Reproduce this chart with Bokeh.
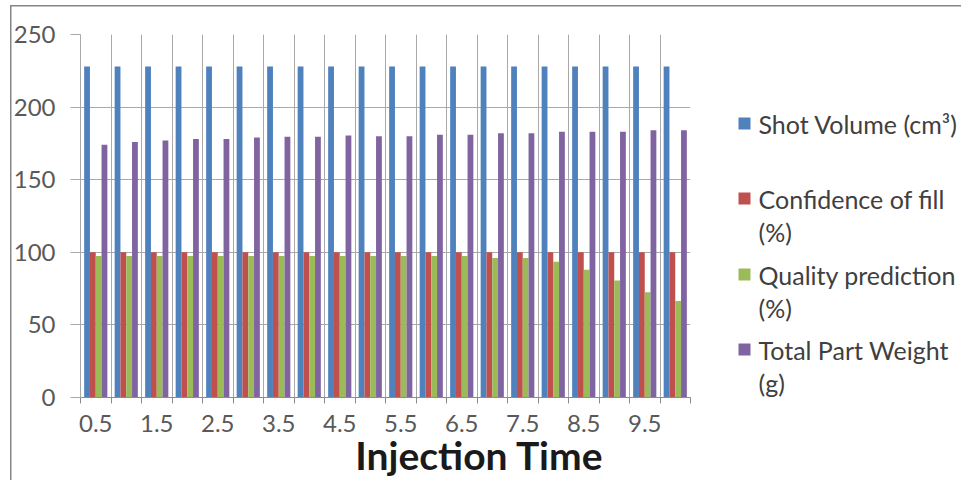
from bokeh.plotting import figure
from bokeh.models import Range1d, FixedTicker, Label, ColumnDataSource
from bokeh.layouts import row
from bokeh.transform import dodge
from bokeh.embed import file_html
from bokeh.resources import INLINE

# ---------------- data ----------------
injection_time = ["0.5", "1", "1.5", "2", "2.5", "3", "3.5", "4", "4.5", "5",
                  "5.5", "6", "6.5", "7", "7.5", "8", "8.5", "9", "9.5", "10"]
shot_volume = [228, 228, 228, 228, 228, 228, 228, 228, 228, 228,
               228, 228, 228, 228, 228, 228, 228, 228, 228, 228]
confidence_fill = [100, 100, 100, 100, 100, 100, 100, 100, 100, 100,
                   100, 100, 100, 100, 100, 100, 100, 100, 100, 100]
quality_prediction = [97.5, 97.5, 97.5, 97.5, 97.5, 97.5, 97.5, 97.5, 97.5, 97.5,
                      97.5, 97.5, 97.5, 96, 96, 93.5, 88, 80.5, 72.5, 66.5]
total_part_weight = [174, 176, 177, 178, 178, 179, 179.5, 179.5, 180.5, 180,
                     180, 181, 181, 182, 182, 183, 183, 183, 184, 184]

series_names = ["Shot Volume (cm\u00b3)", "Confidence of fill\n(%)",
                "Quality prediction\n(%)", "Total Part Weight\n(g)"]
series_colors = ["#4F81BD", "#C0504D", "#9BBB59", "#8064A2"]
y_ticks = [0, 50, 100, 150, 200, 250]
x_title = "Injection Time"

# ---------------- layout constants (page pixels) ----------------
H = 480
MAIN_W, LEG_W = 700, 261
F_LEFT, F_RIGHT, F_TOP, F_BOTTOM = 80, 690, 34, 397
border_color = "#868686"
N = len(injection_time)
Y_MAX = 250

# ---------------- main chart ----------------
p = figure(width=MAIN_W, height=H, output_backend="svg", toolbar_location=None,
           x_range=Range1d(-0.5, N - 0.5), y_range=Range1d(0, Y_MAX),
           min_border_left=F_LEFT, min_border_right=MAIN_W - F_RIGHT,
           min_border_top=F_TOP, min_border_bottom=H - F_BOTTOM)
p.outline_line_color = None
p.background_fill_color = "white"
p.border_fill_color = None

idx = list(range(N))
src = ColumnDataSource(dict(x=idx, sv=shot_volume, cf=confidence_fill,
                            qp=quality_prediction, tw=total_part_weight))

offsets = [-0.285, -0.095, 0.095, 0.285]
cols = ["sv", "cf", "qp", "tw"]
for c, off, color in zip(cols, offsets, series_colors):
    p.vbar(x=dodge("x", off, range=p.x_range), top=c, width=0.19, bottom=0,
           source=src, fill_color=color, line_color=None)

bounds = [i - 0.5 for i in range(N + 1)]
grid_color = "#a9a9a9"
p.xgrid.ticker = FixedTicker(ticks=bounds)
p.xgrid.grid_line_color = grid_color
p.ygrid.grid_line_color = grid_color
p.ygrid.ticker = FixedTicker(ticks=y_ticks)

label_pos = list(range(0, N, 2))
p.xaxis.ticker = FixedTicker(ticks=label_pos, minor_ticks=bounds)
p.xaxis.major_label_overrides = {i: injection_time[i] for i in label_pos}
p.xaxis.major_tick_line_color = None
p.xaxis.major_tick_out = 0
p.xaxis.major_tick_in = 0
p.xaxis.minor_tick_line_color = "#8c8c8c"
p.xaxis.minor_tick_in = 0
p.xaxis.minor_tick_out = 6
p.xaxis.axis_line_color = "#8c8c8c"
p.xaxis.major_label_standoff = 11
p.xaxis.major_label_text_font = "Lato"
p.xaxis.major_label_text_font_size = "24px"
p.xaxis.major_label_text_color = "#595959"

p.yaxis.ticker = FixedTicker(ticks=y_ticks)
p.yaxis.axis_line_color = grid_color
p.yaxis.major_tick_line_color = grid_color
p.yaxis.major_tick_in = 0
p.yaxis.major_tick_out = 10
p.yaxis.minor_tick_line_color = None
p.yaxis.major_label_standoff = 15
p.yaxis.major_label_text_font = "Lato"
p.yaxis.major_label_text_font_size = "24px"
p.yaxis.major_label_text_color = "#595959"

# axis title: in the bottom side panel, positioned with the plot's own scales
px_per_cat = (F_RIGHT - F_LEFT) / N
px_per_unit = (F_BOTTOM - F_TOP) / Y_MAX
title_x = (479 - F_LEFT) / px_per_cat - 0.5
title_y = (F_BOTTOM - 454) / px_per_unit
p.add_layout(Label(x=title_x, y=title_y, x_units="data", y_units="data",
                   text=x_title, text_align="center", text_baseline="middle",
                   text_font="Lato", text_font_style="bold",
                   text_font_size="39px", text_color="#1a1a1a"), "below")

# ---------------- legend panel ----------------
leg = figure(width=LEG_W, height=H, output_backend="svg", toolbar_location=None,
             x_range=Range1d(MAIN_W, MAIN_W + LEG_W), y_range=Range1d(F_BOTTOM, F_TOP),
             min_border_left=0, min_border_right=0,
             min_border_top=F_TOP, min_border_bottom=H - F_BOTTOM,
             x_axis_location=None, y_axis_location=None)
leg.outline_line_color = None
leg.xgrid.visible = False
leg.ygrid.visible = False
leg.border_fill_color = None
leg.background_fill_color = None

leg_first = [123, 198, 274, 349]
line_gap = 33
sq_x, txt_x = 744, 758
leg.rect(x=[sq_x] * 4, y=leg_first, width=12, height=12,
         fill_color=series_colors, line_color=None)
tx, ty, tt = [], [], []
for name, ypx in zip(series_names, leg_first):
    for k, line in enumerate(name.split("\n")):
        tx.append(txt_x)
        ty.append(ypx + k * line_gap)
        tt.append(line)
leg.text(x=tx, y=ty, text=tt, text_align="left", text_baseline="middle",
         text_font_size="25px", text_color="#404040", text_font={"value": "Lato"})

# outer chart border (left and top edges) painted as the page background
border_css = ("linear-gradient(%s, %s) 10px 5px / 1.5px 100%% no-repeat, "
              "linear-gradient(%s, %s) 10px 5px / 100%% 1.5px no-repeat, white"
              % (border_color, border_color, border_color, border_color))
layout = row(p, leg, styles={"background": border_css})

open("out.html", "w").write(file_html(layout, INLINE))
